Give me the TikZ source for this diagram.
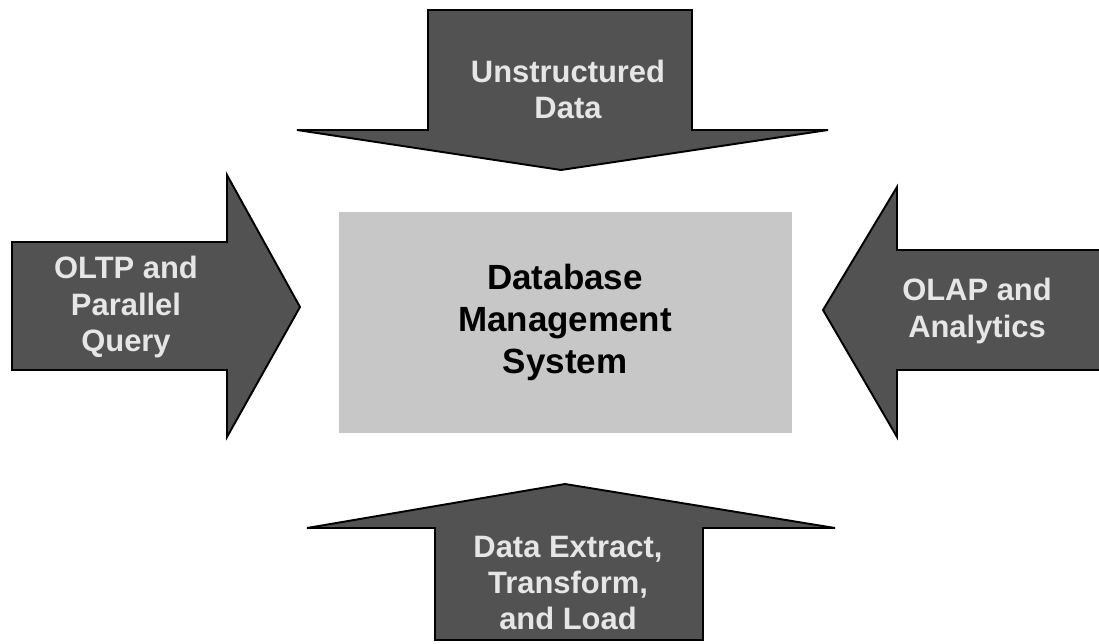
\documentclass[tikz,border=0pt]{standalone}
\usepackage{fontspec}
\setmainfont{Liberation Sans}
\definecolor{arrowgray}{HTML}{525252}
\definecolor{boxgray}{HTML}{C7C7C7}
\definecolor{textgray}{HTML}{E6E6E6}

\begin{document}
\begin{tikzpicture}[
    bigarrow/.style={fill=arrowgray,draw=black,line width=1.1pt,line join=miter},
    arrowtext/.style={text=textgray,align=center,inner sep=0pt,font=\fontsize{17.6}{20.5}\selectfont\bfseries},
    dbmsbox/.style={fill=boxgray,minimum width=9.06cm,minimum height=4.42cm,align=center,font=\fontsize{19.9}{23.9}\selectfont\bfseries}]
    \useasboundingbox (0,0) rectangle (21.98,12.86);
    % DBMS ==================================================
    \node[dbmsbox] (DBMS) at (11.3,6.41) {Database\\Management\\System};
    % Top: unstructured data ================================
    \draw[bigarrow] (8.56,12.66) -- (8.56,10.26) -- (5.94,10.26) -- (11.22,9.46) -- (16.56,10.26) -- (13.84,10.26) -- (13.84,12.66) -- cycle;
    \node[arrowtext] (UD) at (11.36,11.08) {Unstructured\\Data};
    % Left: OLTP ============================================
    \draw[bigarrow] (0.24,8.02) -- (4.54,8.02) -- (4.54,9.36) -- (6.0,6.72) -- (4.54,4.12) -- (4.54,5.46) -- (0.24,5.46) -- cycle;
    \node[arrowtext] (OLTP) at (2.52,6.72) {OLTP and\\Parallel\\Query};
    % Right: OLAP ===========================================
    \draw[bigarrow] (22.3,7.86) -- (17.94,7.86) -- (17.94,9.12) -- (16.46,6.66) -- (17.94,4.12) -- (17.94,5.46) -- (22.3,5.46);
    \node[arrowtext] (OLAP) at (19.54,6.64) {OLAP and\\Analytics};
    % Bottom: ETL ===========================================
    \draw[bigarrow] (8.7,0.06) -- (8.7,2.3) -- (6.14,2.3) -- (11.3,3.18) -- (16.7,2.3) -- (14.06,2.3) -- (14.06,0.06) -- cycle;
    \node[arrowtext] (ETL) at (11.36,1.2) {Data Extract,\\Transform,\\and Load};
\end{tikzpicture}
\end{document}
